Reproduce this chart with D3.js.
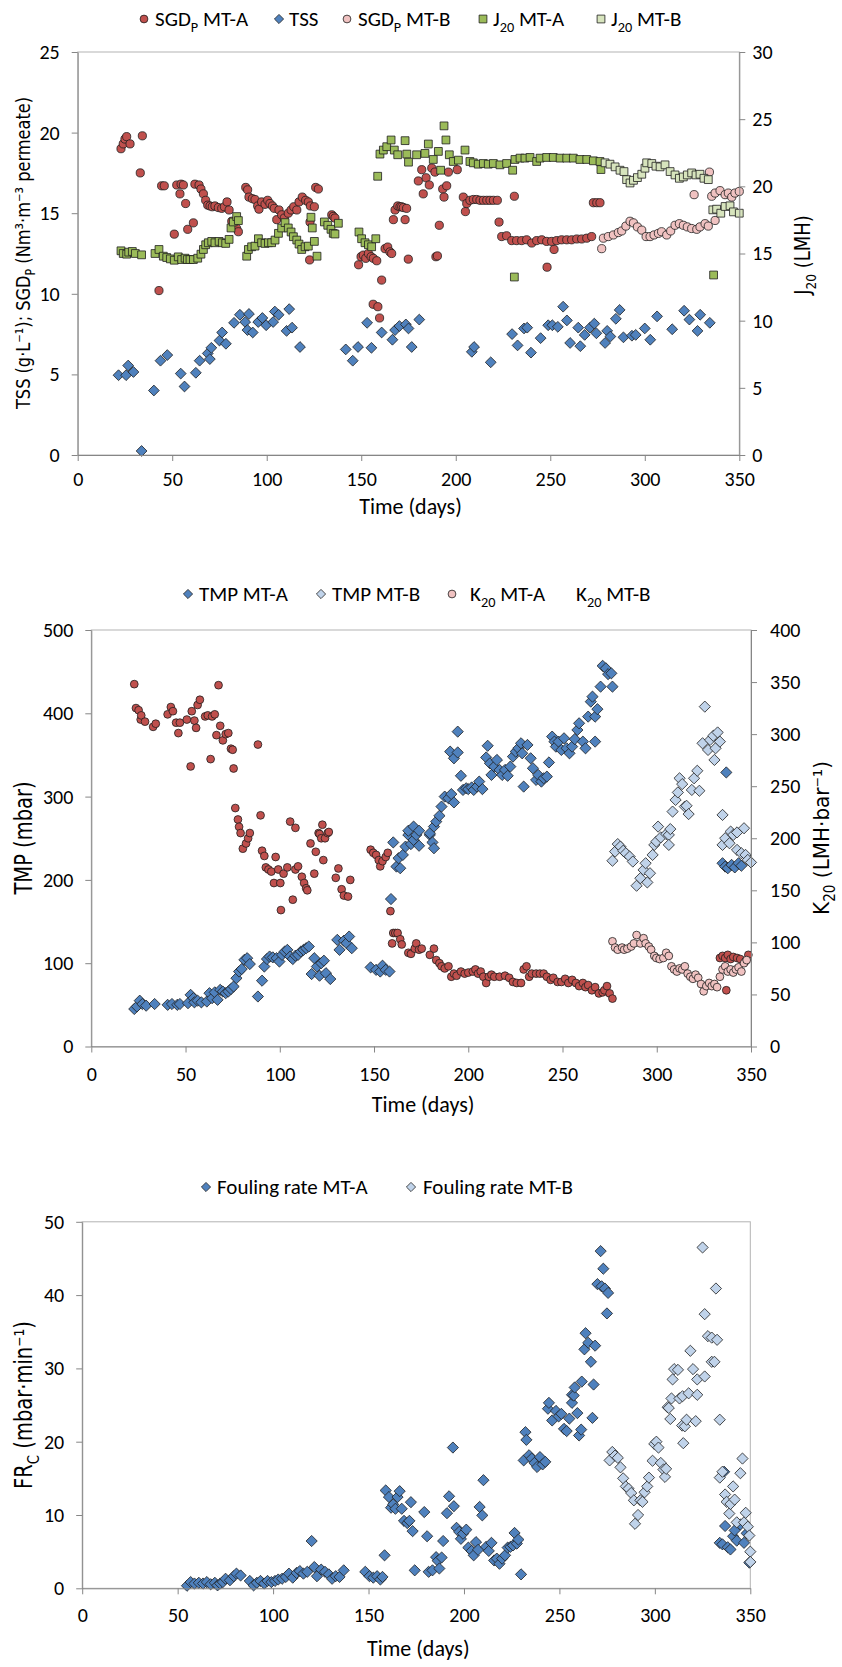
<!DOCTYPE html>
<html>
<head>
<meta charset="utf-8">
<script src="https://cdn.jsdelivr.net/npm/d3@7"></script>
<style>
  body { margin: 0; background: #fff; }
</style>
</head>
<body>
<div id="chart"></div>
<script>
// ---- data: [day, value] ----
const sgdA = [[22.9,19.0],[24.1,19.3],[25,19.6],[25.9,19.75],[27.7,19.3],[33.1,17.5],[34.2,19.8],[43,10.2],[44.4,16.7],[45.8,16.7],[51.1,13.7],[52.4,16.75],[54.1,16.2],[54.7,16.8],[55.9,16.75],[57.1,15.6],[58.2,14.0],[61.2,14.4],[62,16.8],[64.2,16.75],[65.2,16.5],[66.5,16.2],[67.7,15.8],[68.8,15.5],[70,15.45],[71.2,15.4],[72.6,15.45],[74.4,15.35],[76.2,15.3],[77.6,15.4],[79,15.7],[80.1,15.2],[81.5,14.5],[84.1,14.05],[85,13.85],[88.9,16.6],[89.9,16.45],[90.6,16.0],[92.4,15.9],[93.8,15.85],[95.2,15.45],[95.9,15.25],[97.3,15.7],[99.1,15.55],[100.5,15.8],[101.7,15.6],[103,15.45],[104,15.3],[105.3,14.6],[106.5,15.2],[107.9,14.9],[109.3,14.7],[111.4,15.0],[112.9,15.2],[114.3,15.4],[115.9,15.2],[117.1,15.7],[118.8,16.0],[120.6,15.8],[122,15.7],[122.7,12.1],[122.9,14.45],[123.1,15.45],[125.2,15.4],[125.9,16.6],[127.3,16.5],[134.4,14.9],[135.2,14.8],[136.1,14.7],[148.6,11.8],[149.9,12.3],[151.1,12.4],[152.4,12.2],[153.8,12.5],[155.2,12.3],[156.3,9.35],[156.4,12.2],[158.2,12.05],[158.8,9.2],[159.7,8.5],[160.8,10.85],[162.6,12.8],[164,12.9],[165.2,12.6],[166.1,12.5],[167,14.6],[167.9,15.2],[169.3,15.45],[170.5,15.4],[171.4,15.4],[172.3,15.35],[173.2,14.6],[174,15.3],[174.9,12.15],[180.2,17.0],[182,17.7],[182.8,16.2],[184.3,17.2],[186,16.75],[187.3,17.8],[189,17.55],[189.5,12.3],[190.3,12.35],[191.3,14.25],[193.1,16.5],[193.8,16.0],[195.2,16.7],[196.1,17.55],[200.8,17.7],[204,16.0],[205.1,15.1],[205.8,15.6],[207.5,15.8],[209.3,15.85],[211.1,15.85],[212.8,15.8],[214.6,15.8],[216.4,15.8],[218.1,15.8],[219.9,15.8],[222,15.8],[222.9,14.45],[224.3,13.55],[226.9,13.6],[229.6,13.3],[231,16.05],[232.2,13.3],[234.9,13.3],[237.5,13.35],[240.2,13.15],[242.8,13.3],[245.5,13.35],[248.1,13.25],[248.3,11.65],[250.7,13.25],[252,12.75],[253.4,13.3],[256,13.35],[258.7,13.35],[261.3,13.35],[264,13.4],[266.6,13.4],[269.3,13.45],[271.9,13.55],[272.8,15.65],[274.6,15.65],[276.3,15.65]];
const tss = [[21.6,4.95],[25.6,4.95],[26.7,5.55],[29.5,5.15],[33.8,0.25],[40.3,4.0],[43.8,5.85],[47.4,6.2],[54.5,5.05],[56.5,4.25],[62.5,5.1],[64.5,5.85],[68.8,6.3],[69.9,5.95],[70.7,6.65],[75,7.1],[76.4,7.6],[78.4,6.9],[82.7,8.2],[85.8,8.7],[88.6,8.25],[89.8,7.75],[90.6,8.75],[92.6,7.6],[95.5,8.25],[97.7,8.5],[99.7,8.05],[103.4,8.25],[104.3,8.9],[106.3,8.7],[110.5,7.7],[111.9,9.05],[113.4,7.9],[117.6,6.7],[141.8,6.55],[145.5,5.85],[148.3,6.7],[153.1,8.2],[155.4,6.65],[160.8,7.6],[166.5,7.15],[167.9,7.75],[170.2,8.0],[173.6,8.1],[175,7.85],[176.7,6.7],[180.7,8.4],[208.5,6.4],[209.7,6.7],[218.5,5.75],[229.8,7.5],[232.7,6.8],[236.1,7.85],[237.8,7.9],[239.8,6.35],[244.9,7.25],[248.9,8.05],[251.1,8.05],[254,7.95],[256.8,9.2],[258.8,8.35],[260.5,6.95],[264.8,7.9],[265.9,6.75],[268.2,7.45],[271,7.9],[273.3,8.15],[274.4,7.55],[279,6.95],[280.1,7.7],[281.8,7.35],[284.7,8.45],[286.7,9.0],[288.7,7.3],[293.2,7.4],[295.2,7.45],[300,7.85],[302.9,7.15],[306.5,8.6],[314.5,7.8],[320.8,8.95],[323.6,8.4],[327.9,7.7],[329.3,8.7],[334.4,8.2]];
const sgdB = [[277.2,12.8],[278.1,13.45],[280.7,13.55],[283.4,13.65],[286,13.8],[287.8,13.9],[290,14.2],[292.2,14.5],[294,14.4],[296.1,14.15],[298.4,13.95],[300.7,13.55],[302.8,13.55],[304.9,13.65],[307.2,13.75],[308.9,13.85],[311.6,13.65],[313.7,13.9],[316,14.25],[318.3,14.35],[320.4,14.25],[322.5,14.15],[324.8,14.05],[326.1,16.15],[327.5,14.0],[329.2,14.15],[331.9,14.35],[333.6,14.2],[334.2,17.55],[335.4,16.05],[337.2,14.55],[337.2,16.25],[339.8,16.4],[342.5,16.15],[344.2,16.25],[346,16.0],[347.7,16.25],[350,16.35]];
const j20A = [[22.9,15.2],[24.1,15.0],[25.9,14.95],[27,15.1],[28.9,15.15],[30.5,15.0],[33.8,14.9],[40.9,15.0],[43,15.3],[45.3,14.8],[47.1,14.7],[49,14.6],[51.1,14.5],[53.2,14.75],[55,14.55],[56.8,14.65],[58,14.55],[59.4,14.55],[61.2,14.55],[63.5,14.65],[65.2,14.95],[66.5,15.3],[67.7,15.65],[69.1,15.8],[70.9,15.9],[72.6,15.8],[74.8,15.9],[76.5,15.8],[78.3,15.75],[80.1,16.05],[81.1,16.9],[82.3,17.35],[84.1,17.75],[85,17.45],[89.4,14.8],[90.3,15.3],[92,15.5],[93.8,15.55],[95.6,16.1],[97.3,15.8],[99.1,15.75],[100.9,15.8],[102.6,15.8],[104.4,16.0],[106.2,16.5],[107.9,16.9],[109.7,17.3],[111.4,16.9],[112.9,16.6],[114.1,16.25],[115.9,16.0],[117.1,15.7],[118.5,15.3],[120.3,15.5],[122,15.55],[123.4,17.7],[124.1,16.9],[125.2,15.9],[126.6,14.8],[130.5,17.35],[132.3,17.1],[134,16.8],[135.2,16.5],[136.1,16.45],[137.9,17.25],[148.8,16.6],[150.2,16.1],[152,15.8],[153.8,15.65],[155.5,15.5],[157.7,16.1],[158.7,20.75],[159.9,22.4],[161.7,22.7],[163.5,22.95],[165.8,23.45],[167.5,22.7],[169.3,22.35],[173.2,23.4],[174.1,22.4],[175,21.8],[179.3,22.35],[183.7,22.45],[185.5,23.15],[188.1,22.0],[190.8,22.6],[192,21.2],[193.8,24.5],[194.8,23.45],[196.6,22.35],[198.7,21.85],[201.4,21.95],[204.9,22.7],[207.5,21.85],[209.3,21.75],[211.9,21.65],[214.6,21.7],[217.2,21.65],[219.9,21.7],[223.4,21.6],[226.9,21.7],[230.1,21.2],[231,13.25],[231.3,22.0],[234,22.1],[236.6,22.1],[239.3,22.15],[242.8,21.85],[244.6,22.1],[248.1,22.15],[251.6,22.15],[255.2,22.1],[258.7,22.1],[262.2,22.1],[265.7,22.0],[269.3,22.0],[272.8,21.9],[276.3,21.85],[276.8,21.25],[336.4,13.4]];
const j20B = [[279,21.75],[281.6,21.65],[284.3,21.45],[286.9,21.2],[289,21.1],[290.4,20.5],[292.2,20.25],[294,20.45],[296.1,20.65],[298.4,20.9],[300.1,21.35],[301,21.75],[303.7,21.7],[305.9,21.5],[308.1,21.45],[310.7,21.6],[313.4,21.1],[316,20.85],[318.3,20.6],[320.4,20.7],[322.5,20.85],[324.8,21.0],[327.1,20.85],[329.2,20.9],[331.3,20.6],[333.6,20.5],[336,18.25],[338,18.3],[340.2,18.0],[342.5,18.5],[345.1,18.55],[346.9,18.1],[350,18.0]];

const tmpA = [[22.8,45],[24.2,48],[25.7,55],[27.1,51],[29.1,49],[33.6,51],[40.5,50],[42.8,51],[45.6,50],[47,51],[51.3,52],[52.7,62],[54.2,58],[54.7,53],[56.4,55],[58.4,53],[61.3,54],[62.7,64],[64.1,58],[65.5,65],[67,56],[68.4,68],[69.8,66],[71.3,64],[72.7,66],[74.1,69],[75.5,72],[77,82],[78.4,90],[79.8,93],[81.2,104],[82.7,106],[84.1,99],[88.4,60],[90.6,79],[91.8,96],[93.2,105],[94.6,108],[96.3,107],[98.3,106],[99.8,102],[101.2,110],[102.6,114],[104,116],[105.5,108],[106.9,105],[108.3,109],[109.7,110],[111.2,114],[112.6,116],[114,118],[115.4,120],[116.9,87],[118.3,106],[119.7,96],[121.1,85],[122,100],[123.4,103],[124.5,88],[126.8,81],[130.5,128],[131.7,116],[134,127],[135.4,124],[136.8,132],[138.2,118],[148.2,95],[151.1,92],[153.3,90],[154.5,97],[156.2,92],[158.2,90],[159,177],[160.2,245],[161.9,216],[163,226],[163.9,214],[165.3,230],[166.7,240],[168.2,254],[168.2,259],[169.6,243],[171,248],[171,264],[172.4,254],[173.9,241],[173.9,259],[179.6,254],[179.6,256],[181,245],[181.8,238],[181.8,264],[183,270],[184.7,277],[185.8,288],[187.5,300],[189.5,298],[190.4,354],[191,303],[192.4,293],[192.4,346],[194.4,378],[194.4,353],[196.1,325],[197.2,308],[198.9,310],[200,309],[201.8,311],[202.9,308],[204.6,312],[205.8,318],[207.5,309],[209.5,347],[210.3,361],[211.5,340],[212.3,326],[213.8,336],[215.2,344],[216.6,332],[218,326],[219.5,332],[220.9,325],[222.3,336],[223.7,348],[225.2,354],[226.6,358],[228,364],[228.6,352],[229.4,312],[231.4,362],[233.1,346],[234.3,334],[236,320],[237.1,326],[238.8,318],[240,322],[241.7,324],[242.8,341],[244.5,372],[245.7,366],[246.5,360],[247.9,366],[249.4,356],[250.8,370],[252.2,358],[253.7,352],[255.1,360],[256.5,369],[257.9,380],[258.8,388],[260.8,366],[262.2,358],[263.6,396],[265,414],[265.9,420],[267.3,396],[267.3,366],[268.5,405],[270.2,432],[271.3,457],[273,454],[274.2,447],[275.9,448],[276.5,432],[334.9,220],[336.3,216],[336.9,329],[337.7,214],[339.7,218],[341.4,215],[343.4,220],[344.9,217]];
const tmpB = [[276.5,223],[277.9,234],[279.3,243],[280.7,240],[282.2,235],[283.6,232],[285.6,228],[287.3,222],[289.3,193],[291.3,202],[293,212],[294.1,220],[295,197],[296.4,208],[297.8,230],[298.7,242],[299.8,246],[300.7,264],[302.1,251],[305,255],[306.4,254],[306.4,242],[307.2,261],[308.4,282],[310,296],[311.2,305],[312.1,322],[313.5,315],[314.9,288],[315.8,289],[316.9,279],[318.6,308],[319.8,322],[321.5,331],[322.6,307],[324.3,364],[325.5,408],[327.2,356],[328.3,368],[330,373],[330.6,344],[331.2,358],[332.3,377],[333.5,366],[334.9,278],[334.9,242],[336.3,250],[338.6,244],[339.2,258],[340.6,254],[342.6,236],[342.6,257],[344.9,232],[346.3,262],[347.1,230],[348.3,224],[350,221]];
const k20A = [[22.8,348],[23.7,325],[25.1,323],[26.2,314],[26.5,318],[28.5,312],[32.8,307],[34.2,310],[40.5,319],[42.2,326],[43.3,322],[45,311],[46.2,301],[47,311],[50.7,314],[52.7,269],[53.3,322],[54.7,313],[55.6,306],[56.4,328],[57.6,333],[60.4,317],[61.8,318],[63.3,276],[64.1,317],[65.5,319],[66.4,299],[67.5,347],[68.4,308],[69.8,294],[71.3,300],[72.7,301],[74.1,286],[75,285],[75.5,267],[76.4,229],[77.8,218],[78.4,211],[79.2,205],[80.4,190],[82.1,195],[83.2,200],[84.1,205],[88.4,290],[89.8,222],[90.6,188],[91.8,183],[92.6,172],[94,170],[95.5,168],[96.9,157],[97.8,182],[99.2,170],[100.3,157],[100.6,131],[102,166],[104,172],[105.5,216],[106.9,141],[108.3,170],[108.3,210],[109.7,173],[111.7,163],[112.9,157],[114,152],[114.6,150],[116.3,195],[118.3,166],[119.1,187],[120.6,205],[121.1,204],[122,200],[122.6,213],[123.1,179],[124,200],[125.4,205],[126,206],[129.7,162],[131.1,171],[132.8,151],[134,145],[136.2,144],[137.4,160],[148.2,189],[149.6,186],[151.1,184],[152.5,179],[153.3,173],[154.5,178],[156.2,182],[157.3,186],[158.7,130],[159.6,99],[160.2,109],[161.3,109],[162.5,109],[163.9,103],[164.7,98],[168.2,90],[169.6,89],[171.6,94],[172.4,99],[173.9,93],[175.3,94],[179.6,88],[181.8,94],[183,83],[184.7,80],[185.8,77],[187.5,75],[189.5,77],[191,67],[192.4,70],[193.8,68],[196.1,72],[198.1,70],[200,71],[202.4,72],[203.8,74],[205.2,70],[206.6,72],[208,67],[209.5,61],[210.9,67],[212.3,69],[213.8,67],[216.6,67],[219.5,68],[221.7,66],[223.7,62],[225.7,61],[228,61],[229.4,74],[230.9,77],[232.3,67],[233.7,70],[236,70],[238,70],[240,70],[241.7,67],[243.7,64],[245.1,66],[247.4,62],[249.4,62],[251.4,65],[253.1,61],[255.1,64],[257.1,61],[258.8,58],[260.8,61],[262.2,57],[263.6,59],[265.6,54],[267.3,57],[269.3,51],[271.3,52],[272.2,54],[273.6,58],[275,51],[276.5,46],[333.5,85],[334.9,87],[336.3,85],[336.9,54],[337.7,88],[339.2,84],[340.6,86],[342.6,85],[344.3,84],[347.1,82],[348.6,88]];
const k20B = [[276.5,101],[277.9,95],[279.3,93],[281.6,95],[282.7,93],[284.4,94],[286.4,96],[287.9,99],[289.3,107],[291.3,99],[293,104],[294.1,99],[295.8,96],[297,93],[298.7,87],[299.8,85],[301.5,84],[303.5,85],[305,90],[306.4,87],[307.8,77],[309.2,74],[310.7,72],[312.1,75],[313.5,74],[314.9,77],[316.4,70],[317.8,67],[319.2,65],[320.6,69],[322,66],[323.5,60],[324.9,53],[326.3,58],[327.8,61],[329.2,58],[330.6,60],[332,57],[333.5,67],[334.9,74],[336.3,77],[337.7,72],[339.2,74],[340.6,71],[342,74],[343.4,76],[344.9,72],[346.3,80],[347.7,83]];

const frA = [[54.9,0.35],[56.8,0.85],[58.8,0.65],[61.1,0.75],[63.3,0.65],[65.3,0.85],[67.3,0.55],[69.5,0.75],[70.9,0.4],[72.3,0.65],[73.7,0.85],[75.1,1.3],[77.4,1.1],[79.4,1.65],[80.8,2.0],[83,1.75],[87.8,1.0],[89.8,0.4],[91.5,0.75],[93.4,1.0],[95.4,0.65],[97.1,1.0],[99.1,0.85],[101,1.0],[102.7,1.2],[104.7,1.3],[106.7,1.55],[108.3,2.0],[110.3,1.45],[112.3,2.1],[114,2.35],[115.9,2.0],[117.9,2.25],[120.2,6.45],[121.6,2.9],[123,1.65],[125.2,2.55],[127.2,2.25],[129.2,1.9],[130.9,1.3],[132.8,1.65],[134.8,1.55],[137,2.45],[148.3,2.25],[150.5,1.65],[152.5,1.45],[154.5,1.65],[156.2,1.2],[157.3,1.55],[158.4,4.5],[159,13.35],[160.7,12.45],[161.8,11.0],[162.9,11.45],[164.1,10.85],[165.2,12.45],[166.3,13.25],[167.4,10.85],[168.6,9.2],[170.3,8.9],[171.4,9.2],[172.2,11.75],[173.1,7.8],[174.2,2.45],[179.2,10.4],[180.7,7.1],[181.5,2.25],[183.5,2.45],[185.4,4.25],[186.3,3.75],[187.1,2.7],[188.3,4.2],[189.1,6.45],[191.1,10.25],[192.2,12.55],[194.2,19.2],[194.7,11.2],[196.1,8.25],[197.5,7.7],[198.4,6.75],[199.5,7.45],[201.2,8.0],[202.3,5.55],[204,5.1],[205.1,4.5],[206.3,6.3],[207.4,5.25],[208.2,11.1],[209.6,9.95],[210.2,14.75],[211.6,5.65],[213,5.1],[214.4,6.2],[215.8,3.8],[217.2,4.05],[218.6,3.35],[220,4.05],[221.5,4.5],[222.9,5.55],[224.3,5.65],[225.7,5.85],[226.5,7.55],[227.7,6.1],[228.5,6.65],[229.9,1.9],[231.3,17.45],[232.2,21.3],[232.7,20.25],[234.1,18.15],[235.5,17.7],[236.9,17.1],[238.3,16.55],[239.8,17.9],[241.2,16.9],[242.6,17.25],[244,24.5],[244.5,25.3],[246.2,22.9],[248.2,24.2],[249.6,23.45],[251,23.8],[252.4,21.75],[253.8,21.45],[255.2,23.15],[256.6,25.3],[256.6,26.4],[257.5,26.3],[258,27.4],[259.4,23.9],[260.3,20.85],[261.4,21.65],[261.7,28.2],[263.1,32.6],[263.7,34.8],[265.1,33.5],[266.5,30.9],[267.3,23.25],[267.9,27.8],[268.7,33.1],[269.9,41.5],[271.6,46],[272.1,41.2],[273,43.6],[273.8,40.9],[274.9,37.5],[275.5,40.3],[334,6.2],[335.4,6.0],[336.3,15.9],[336.8,8.5],[338.2,5.6],[339.6,5.3],[341,7.1],[341.8,7.9],[342.9,6.5],[344.8,8.7],[346.7,6.2],[348.1,7.5],[349.5,3.5]];
const frB = [[276.3,17.45],[277.7,18.6],[279.1,18.1],[280.6,17.8],[282,16.5],[283.4,15],[284.8,13.9],[286.2,13.6],[287.6,13],[289,12],[289.6,8.8],[291.2,10],[292.4,12],[293.5,11.8],[294.6,13.1],[296,13.9],[296.9,15.1],[298.8,17.4],[299.7,19.7],[300.8,20],[301.9,19.2],[303.1,17.1],[304.5,16.2],[305.3,15.2],[305.9,16.3],[306.7,24.7],[307.3,24.6],[308.1,23.1],[308.7,25.9],[309.3,28.5],[310.1,29.9],[312.1,29.8],[312.9,25.9],[314.3,22.2],[314.5,26.2],[314.9,19.8],[315.7,22.1],[316.6,23],[317.7,26.6],[318.6,32.4],[320,29.9],[321.4,22.8],[322.2,28.5],[322.2,26.4],[325,46.5],[326.1,37.4],[326.1,28.9],[327.8,34.4],[329.8,34.2],[329.8,30.9],[331.2,30.9],[332,40.9],[332.6,33.9],[334,23],[334,15.1],[335.4,15.9],[336.8,12.8],[337.6,11.8],[339,10.2],[339.6,11.5],[341,13.9],[341.8,12.1],[342.9,9],[344.8,15.7],[345.9,17.7],[346.7,9],[347.6,10.3],[348.7,8.4],[349.5,7.2],[350,5],[350,3.6]];

const xTicks = [0, 50, 100, 150, 200, 250, 300, 350];
const p1LeftTicks = [0, 5, 10, 15, 20, 25];
const p1RightTicks = [0, 5, 10, 15, 20, 25, 30];
const p2LeftTicks = [0, 100, 200, 300, 400, 500];
const p2RightTicks = [0, 50, 100, 150, 200, 250, 300, 350, 400];
const p3Ticks = [0, 10, 20, 30, 40, 50];

const RED = '#c0504d', PINK = '#f0c2c1', BLUE = '#4f81bd', LBLUE = '#c0d3ea', GREEN = '#9bbb59', LGREEN = '#d7e4bd';
const FONT = 'Carlito, "Open Sans", sans-serif';
const LFONT = '"DejaVu Sans", Verdana, sans-serif';
const AXIS = '#868686';
const TICK_FS = 20, LEGEND_FS = 21, TITLE_FS = 22;

const svg = d3.select('#chart').append('svg').attr('width', 842).attr('height', 1667);

// marker shapes
const shapePath = (shape, r) => {
  if (shape === 'circle') return `M${-r},0a${r},${r} 0 1,0 ${2 * r},0a${r},${r} 0 1,0 ${-2 * r},0Z`;
  if (shape === 'square') return `M${-r},${-r}h${2 * r}v${2 * r}h${-2 * r}Z`;
  return `M0,${-r}L${r},0L0,${r}L${-r},0Z`;
};

const drawSeries = (data, x, y, shape, fill, r) => {
  svg.append('g').selectAll('path').data(data).join('path')
    .attr('transform', d => `translate(${x(d[0])},${y(d[1])})`)
    .attr('d', shapePath(shape, r))
    .attr('fill', fill)
    .attr('stroke', '#1e1e1e')
    .attr('stroke-width', 0.8);
};

// text with subscript pieces
const richText = (sel, parts, fs) => {
  let shift = 0;
  parts.forEach(p => {
    const t = typeof p === 'string' ? { t: p } : p;
    const ts = sel.append('tspan').text(t.t);
    const target = t.sub ? fs * 0.28 : 0;
    if (target !== shift) ts.attr('dy', target - shift);
    shift = target;
    if (t.sub) ts.attr('font-size', fs * 0.68);
  });
};

const styleAxis = (g) => {
  g.attr('font-family', FONT).attr('font-size', TICK_FS);
  g.select('.domain').attr('stroke', AXIS);
  g.selectAll('.tick line').attr('stroke', AXIS);
  g.selectAll('.tick text').attr('fill', '#000');
};

const frame = (x, y) => {
  svg.append('rect')
    .attr('x', x.range()[0]).attr('y', y.range()[1])
    .attr('width', x.range()[1] - x.range()[0])
    .attr('height', y.range()[0] - y.range()[1])
    .attr('fill', 'none').attr('stroke', '#b3b3b3').attr('stroke-width', 1);
};

const xAxis = (x, y, pad) => {
  svg.append('g')
    .attr('transform', `translate(0,${y.range()[0]})`)
    .call(d3.axisBottom(x).tickValues(xTicks).tickSizeInner(6).tickSizeOuter(0).tickPadding(pad))
    .call(styleAxis);
};

const leftAxis = (x, y, ticks) => {
  svg.append('g')
    .attr('transform', `translate(${x.range()[0]},0)`)
    .call(d3.axisLeft(y).tickValues(ticks).tickSizeInner(6).tickSizeOuter(0).tickPadding(12))
    .call(styleAxis);
};

const rightAxis = (x, y, ticks, pad) => {
  svg.append('g')
    .attr('transform', `translate(${x.range()[1]},0)`)
    .call(d3.axisRight(y).tickValues(ticks).tickSizeInner(6).tickSizeOuter(0).tickPadding(pad))
    .call(styleAxis);
};

const yLabel = (cx, cy, parts, fs, stretch) => {
  const t = svg.append('text')
    .attr('transform', `translate(${cx},${cy}) rotate(-90) scale(1,${stretch})`)
    .attr('text-anchor', 'middle')
    .attr('dy', '0.36em')
    .attr('font-family', LFONT)
    .attr('font-size', fs)
    .attr('fill', '#000');
  richText(t, parts, fs);
};

const xLabel = (x, baseline) => {
  svg.append('text')
    .attr('x', (x.range()[0] + x.range()[1]) / 2 + 2)
    .attr('y', baseline)
    .attr('text-anchor', 'middle')
    .attr('font-family', FONT)
    .attr('font-size', TITLE_FS)
    .text('Time (days)');
};

const legend = (cy, items) => {
  items.forEach(it => {
    if (it.shape) {
      svg.append('path')
        .attr('transform', `translate(${it.mx},${cy})`)
        .attr('d', shapePath(it.shape, it.shape === 'diamond' ? 4.6 : 3.9))
        .attr('fill', it.fill).attr('stroke', '#1e1e1e').attr('stroke-width', 0.8);
    }
    const t = svg.append('text')
      .attr('x', it.tx).attr('y', cy + 7)
      .attr('font-family', FONT).attr('font-size', LEGEND_FS).attr('fill', '#000');
    richText(t, it.parts, LEGEND_FS);
  });
};

// ---- panel 1 ----
const x1 = d3.scaleLinear().domain([0, 350]).range([77.7, 739.3]);
const y1 = d3.scaleLinear().domain([0, 25]).range([455, 52]);
const y1r = d3.scaleLinear().domain([0, 30]).range([455, 52]);
frame(x1, y1);
drawSeries(sgdA, x1, y1, 'circle', RED, 4.1);
drawSeries(tss, x1, y1, 'diamond', BLUE, 5.4);
drawSeries(sgdB, x1, y1, 'circle', PINK, 4.1);
drawSeries(j20A, x1, y1r, 'square', GREEN, 3.9);
drawSeries(j20B, x1, y1r, 'square', LGREEN, 3.9);
xAxis(x1, y1, 11);
leftAxis(x1, y1, p1LeftTicks);
rightAxis(x1, y1r, p1RightTicks, 7);
yLabel(22.5, 253, ['TSS (g·L⁻¹); SGD', { t: 'P', sub: true }, ' (Nm³·m⁻³ permeate)'], 16.2, 1.25);
yLabel(802, 255, ['J', { t: '20', sub: true }, ' (LMH)'], 18, 1.2);
xLabel(x1, 514);
legend(19, [
  { shape: 'circle', fill: RED, mx: 144, tx: 155, parts: ['SGD', { t: 'P', sub: true }, ' MT-A'] },
  { shape: 'diamond', fill: BLUE, mx: 279, tx: 289, parts: ['TSS'] },
  { shape: 'circle', fill: PINK, mx: 347, tx: 358, parts: ['SGD', { t: 'P', sub: true }, ' MT-B'] },
  { shape: 'square', fill: GREEN, mx: 483, tx: 493, parts: ['J', { t: '20', sub: true }, ' MT-A'] },
  { shape: 'square', fill: LGREEN, mx: 601, tx: 611, parts: ['J', { t: '20', sub: true }, ' MT-B'] }
]);

// ---- panel 2 ----
const x2 = d3.scaleLinear().domain([0, 350]).range([91.3, 751]);
const y2 = d3.scaleLinear().domain([0, 500]).range([1046.5, 630]);
const y2r = d3.scaleLinear().domain([0, 400]).range([1046.5, 630]);
frame(x2, y2);
drawSeries(tmpA, x2, y2, 'diamond', BLUE, 5.6);
drawSeries(tmpB, x2, y2, 'diamond', LBLUE, 5.6);
drawSeries(k20A, x2, y2r, 'circle', RED, 3.9);
drawSeries(k20B, x2, y2r, 'circle', PINK, 3.9);
xAxis(x2, y2, 14);
leftAxis(x2, y2, p2LeftTicks);
rightAxis(x2, y2r, p2RightTicks, 13);
yLabel(23.5, 838, ['TMP (mbar)'], 19.5, 1.25);
yLabel(821, 838, ['K', { t: '20', sub: true }, ' (LMH·bar⁻¹)'], 20, 1.1);
xLabel(x2, 1112);
legend(594, [
  { shape: 'diamond', fill: BLUE, mx: 188, tx: 199, parts: ['TMP MT-A'] },
  { shape: 'diamond', fill: LBLUE, mx: 321, tx: 332, parts: ['TMP MT-B'] },
  { shape: 'circle', fill: PINK, mx: 452, tx: 470, parts: ['K', { t: '20', sub: true }, ' MT-A'] },
  { shape: null, tx: 576, parts: ['K', { t: '20', sub: true }, ' MT-B'] }
]);

// ---- panel 3 ----
const x3 = d3.scaleLinear().domain([0, 350]).range([82.2, 750.3]);
const y3 = d3.scaleLinear().domain([0, 50]).range([1588.3, 1221.8]);
frame(x3, y3);
drawSeries(frA, x3, y3, 'diamond', BLUE, 5.6);
drawSeries(frB, x3, y3, 'diamond', LBLUE, 5.6);
xAxis(x3, y3, 14);
leftAxis(x3, y3, p3Ticks);
yLabel(23.5, 1405, ['FR', { t: 'C', sub: true }, ' (mbar·min⁻¹)'], 19.5, 1.25);
xLabel(x3, 1656);
legend(1187, [
  { shape: 'diamond', fill: BLUE, mx: 206, tx: 217, parts: ['Fouling rate MT-A'] },
  { shape: 'diamond', fill: LBLUE, mx: 411, tx: 423, parts: ['Fouling rate MT-B'] }
]);
</script>
</body>
</html>
